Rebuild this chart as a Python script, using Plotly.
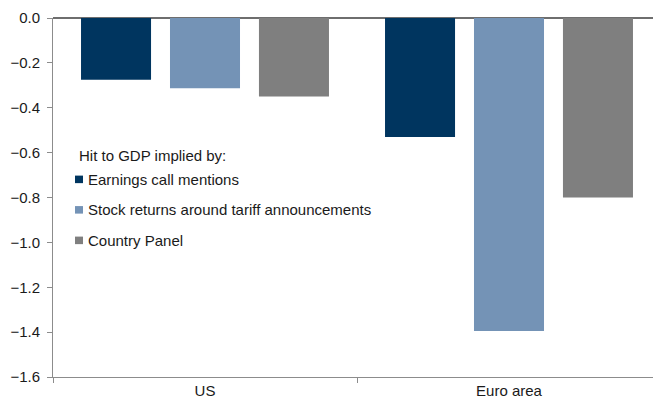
import plotly.graph_objects as go

regions = ["US", "Euro area"]
series_names = ["Earnings call mentions",
                "Stock returns around tariff announcements",
                "Country Panel"]
earnings_call = [-0.275, -0.53]
stock_returns = [-0.313, -1.395]
country_panel = [-0.35, -0.80]
colors = ["#00355F", "#7493B6", "#7F7F7F"]
legend_title = "Hit to GDP implied by:"

y_ticks = [0.0, -0.2, -0.4, -0.6, -0.8, -1.0, -1.2, -1.4, -1.6]

font = "Arial, Liberation Sans, sans-serif"
axis_grey = "#8C8C8C"
text_col = "#1a1a1a"

fig = go.Figure()
for i, (name, vals) in enumerate(zip(series_names, [earnings_call, stock_returns, country_panel])):
    fig.add_trace(go.Bar(
        x=regions, y=vals, name=name,
        marker=dict(color=colors[i], line=dict(width=0)),
        showlegend=False,
    ))

# legend drawn Excel-style: title line, then small squares with labels
fig.add_annotation(x=0.0395, y=0.618, xref="paper", yref="paper",
                   text=legend_title, showarrow=False,
                   xanchor="left", yanchor="middle",
                   font=dict(family=font, size=15, color=text_col))
leg_y = [0.5515, 0.4666, 0.3816]
for name, col, yy in zip(series_names, colors, leg_y):
    fig.add_shape(type="rect", xref="paper", yref="paper",
                  x0=0.0362, x1=0.0493, y0=yy - 0.0115, y1=yy + 0.0095,
                  fillcolor=col, line=dict(width=0))
    fig.add_annotation(x=0.0543, y=yy, xref="paper", yref="paper",
                       text=name, showarrow=False,
                       xanchor="left", yanchor="middle",
                       font=dict(family=font, size=15, color=text_col))

fig.update_layout(
    width=653, height=397,
    margin=dict(l=45, r=0, t=10, b=28),
    plot_bgcolor="white", paper_bgcolor="white",
    barmode="group", bargap=0.122, bargroupgap=0.213,
    font=dict(family=font, size=15, color=text_col),
    xaxis=dict(
        type="category", range=[-0.5, 1.5],
        tickson="boundaries", ticks="outside", ticklen=5, tickcolor=axis_grey,
        showline=True, linecolor=axis_grey, linewidth=1,
        showgrid=False, zeroline=False,
        tickfont=dict(family=font, size=15, color=text_col),
    ),
    yaxis=dict(
        range=[-1.6, 0], tickvals=y_ticks, tickformat=".1f",
        ticks="outside", ticklen=5, tickcolor=axis_grey,
        showline=True, linecolor=axis_grey, linewidth=1,
        showgrid=False,
        zeroline=True, zerolinecolor="#6E6E6E", zerolinewidth=2,
        ticklabelstandoff=4,
        tickfont=dict(family=font, size=15, color=text_col),
    ),
)

fig.write_html("out.html")
